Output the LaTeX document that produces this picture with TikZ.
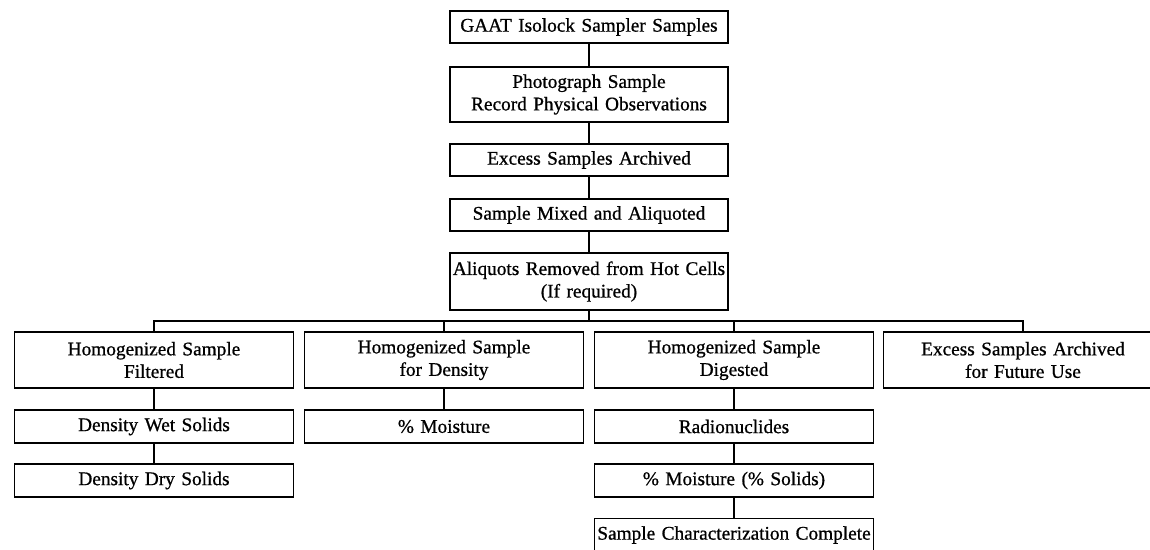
\documentclass[tikz,border=0pt]{standalone}
\usepackage{fontspec}
\setmainfont{Liberation Serif}[FakeBold=0.8, WordSpace=0.8]
\begin{document}
\begin{tikzpicture}[x=1pt,y=-1pt,
  box/.style={draw, line width=1.5pt, rectangle, align=center, inner sep=0pt,
    minimum width=#1, text width=#1, font=\fontsize{19.3}{22.5}\selectfont},
  box/.default=279pt,
  link/.style={line width=1.5pt}]
\useasboundingbox (0,0) rectangle (1150,549);
\clip (0,0) rectangle (1150,549);
\fill[white] (0,0) rectangle (1150,549);
% main column
\node[box=278pt, minimum height=32pt] (n1) at (589,27) {GAAT Isolock Sampler Samples};
\node[box=278pt, minimum height=55pt] (n2) at (589,94.5) {Photograph Sample\\Record Physical Observations};
\node[box=278pt, minimum height=32pt] (n3) at (589,160) {Excess Samples Archived};
\node[box=278pt, minimum height=32pt] (n4) at (589,215) {Sample Mixed and Aliquoted};
\node[box=278pt, minimum height=57pt] (n5) at (589,281.5) {Aliquots Removed from Hot Cells\\(If required)};
% row 1
\node[box, minimum height=56pt] (a1) at (154,360) {Homogenized Sample\\Filtered};
\node[box, minimum height=56pt] (b1) at (444,360) {Homogenized Sample\\for Density};
\node[box, minimum height=56pt] (c1) at (734,360) {Homogenized Sample\\Digested};
\node[box, minimum height=56pt] (d1) at (1023,360) {Excess Samples Archived\\for Future Use};
% row 2
\node[box, minimum height=33pt] (a2) at (154,426.5) {Density Wet Solids};
\node[box, minimum height=33pt] (b2) at (444,426.5) {\% Moisture};
\node[box, minimum height=33pt] (c2) at (734,426.5) {Radionuclides};
% row 3
\node[box, minimum height=33pt] (a3) at (154,480.5) {Density Dry Solids};
\node[box, minimum height=33pt] (c3) at (734,480.5) {\% Moisture (\% Solids)};
% row 4
\node[box, minimum height=33pt] (c4) at (734,535) {Sample Characterization Complete};
% bus
\coordinate (bus) at (0,321);
% connectors
\draw[link] (n1) -- (n2);
\draw[link] (n2) -- (n3);
\draw[link] (n3) -- (n4);
\draw[link] (n4) -- (n5);
\draw[link] (n5.south) -- (n5.south |- bus);
\draw[link] (a1.north) -- (a1.north |- bus) -- (d1.north |- bus) -- (d1.north);
\draw[link] (b1.north) -- (b1.north |- bus);
\draw[link] (c1.north) -- (c1.north |- bus);
\draw[link] (a1) -- (a2);
\draw[link] (a2) -- (a3);
\draw[link] (b1) -- (b2);
\draw[link] (c1) -- (c2);
\draw[link] (c2) -- (c3);
\draw[link] (c3) -- (c4);
\end{tikzpicture}
\end{document}
